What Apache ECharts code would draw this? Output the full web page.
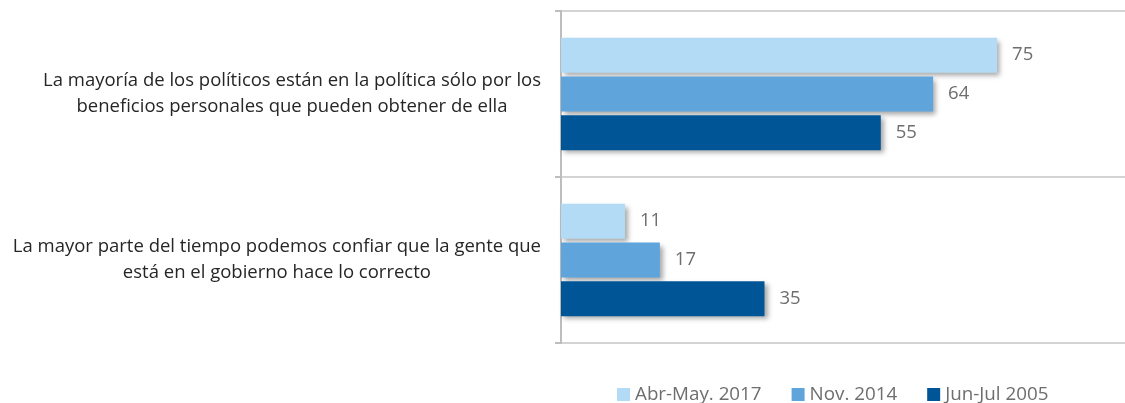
<!DOCTYPE html>
<html>
<head>
<meta charset="utf-8">
<script src="https://cdn.jsdelivr.net/npm/echarts@6/dist/echarts.min.js"></script>
<style>
  html, body { margin: 0; padding: 0; background: #fff; }
  #chart { width: 1125px; height: 403px; }
</style>
</head>
<body>
<div id="chart"></div>
<script>
// Statements (wrapped onto two lines as shown on the axis)
var categories = [
  'La mayoría de los políticos están en la política sólo por los\nbeneficios personales que pueden obtener de ella',
  'La mayor parte del tiempo podemos confiar que la gente que\nestá en el gobierno hace lo correcto'
];
var seriesNames = ['Abr-May. 2017', 'Nov. 2014', 'Jun-Jul 2005'];
var values2017 = [75, 11];
var values2014 = [64, 17];
var values2005 = [55, 35];
var colors = ['#b3dbf6', '#5fa5db', '#005597'];

var FONT = '"Open Sans", Lato, sans-serif';

function makeSeries(name, data, color) {
  return {
    name: name,
    type: 'bar',
    data: data,
    barWidth: 35,
    barGap: '11%',
    itemStyle: {
      color: color,
      shadowColor: 'rgba(0,0,0,0.35)',
      shadowBlur: 5,
      shadowOffsetX: 3,
      shadowOffsetY: 3
    },
    label: {
      show: true,
      position: 'right',
      distance: 15,
      color: '#6e6e6e',
      fontFamily: FONT,
      fontSize: 18.5
    }
  };
}

var chart = echarts.init(document.getElementById('chart'), null, { renderer: 'canvas' });
chart.setOption({
  animation: false,
  color: colors,
  grid: { left: 561, right: 0, top: 11, bottom: 60, containLabel: false },
  xAxis: {
    type: 'value',
    min: 0,
    max: 97,
    show: false
  },
  yAxis: {
    type: 'category',
    inverse: true,
    data: categories,
    axisLine: { show: true, lineStyle: { color: '#bdbdbd', width: 2 } },
    axisTick: { show: true, length: 6, lineStyle: { color: '#bdbdbd', width: 2 } },
    splitLine: { show: true, lineStyle: { color: '#d3d3d3', width: 2 } },
    axisLabel: {
      margin: 20,
      align: 'right',
      color: '#262626',
      fontFamily: FONT,
      fontSize: 18.5,
      lineHeight: 26,
      formatter: function (v) {
        return v.split('\n').map(function (l) { return '{c|' + l + '}'; }).join('\n');
      },
      rich: {
        c: { align: 'center', color: '#262626', fontFamily: FONT, fontSize: 18.5, lineHeight: 26 }
      }
    }
  },
  legend: {
    left: 617,
    top: 385,
    padding: 0,
    itemWidth: 13,
    itemHeight: 13,
    itemGap: 30,
    icon: 'rect',
    textStyle: { color: '#6e6e6e', fontFamily: FONT, fontSize: 18.8 },
    data: seriesNames
  },
  series: [
    makeSeries(seriesNames[0], values2017, colors[0]),
    makeSeries(seriesNames[1], values2014, colors[1]),
    makeSeries(seriesNames[2], values2005, colors[2])
  ]
});
</script>
</body>
</html>
